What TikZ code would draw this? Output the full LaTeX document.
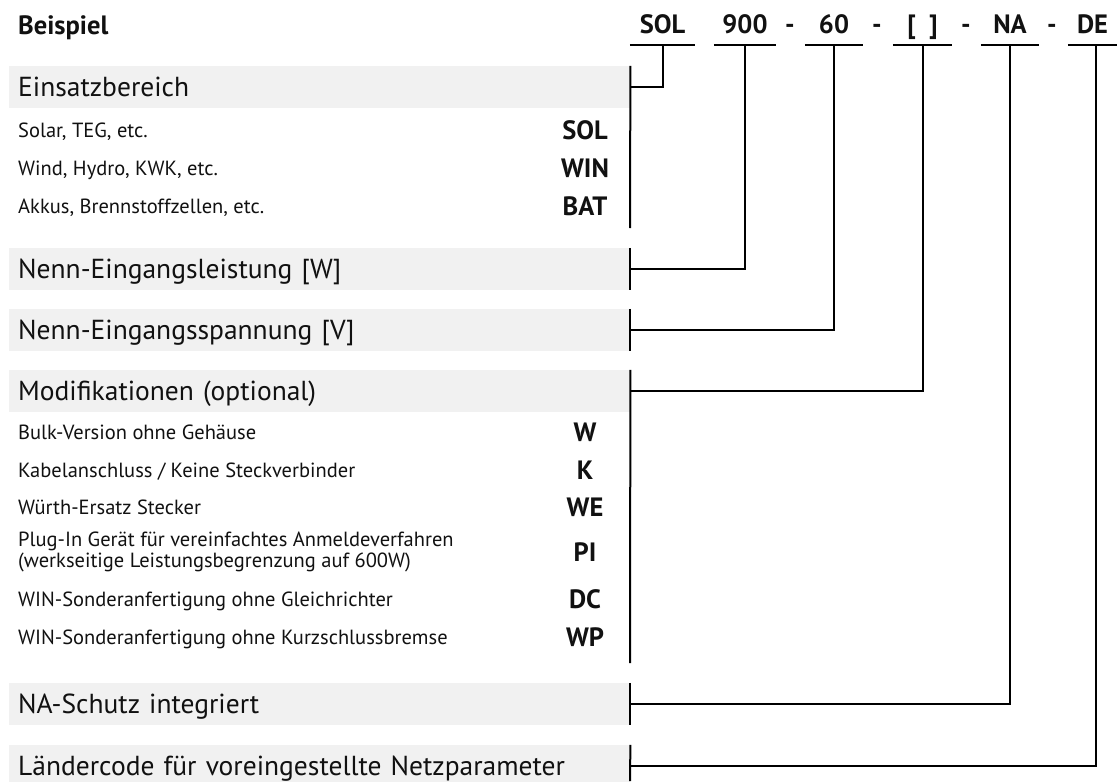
\documentclass[tikz,border=0pt]{standalone}
\usepackage{fontspec}
\setmainfont{PT Sans}
\definecolor{bargray}{HTML}{F1F1F1}
\definecolor{ink}{HTML}{111111}
\begin{document}
\begin{tikzpicture}[x=1pt,y=-1pt,
  every node/.style={text=ink, inner sep=0pt},
  conn/.style={draw=black, line width=2pt},
  bar/.style={fill=bargray, anchor=west, minimum width=621pt, minimum height=42pt,
    text width=603pt, inner xsep=9pt, align=left, text height=19pt, text depth=0pt,
    font=\fontsize{27.5}{32}\selectfont},
  item/.style={anchor=west, text height=14.3pt, text depth=0pt,
    font=\fontsize{20.5}{24}\selectfont},
  item2/.style={anchor=west, align=left, font=\fontsize{20.5}{21}\selectfont},
  code/.style={text height=18.5pt, text depth=0pt, font=\fontsize{26.5}{31}\bfseries\selectfont},
  hcode/.style={code, minimum width=#1, inner ysep=11.5pt},
]
\useasboundingbox (0,0) rectangle (1118,781);

% header line
\node[code, anchor=west] (beispiel) at (18,25) {Beispiel};
\node[hcode=65pt] (hsol) at (662.5,24.5) {SOL};
\node[hcode=62pt] (h900) at (745,24.5) {900};
\node[code] (d1) at (790,24.5) {-};
\node[hcode=58pt] (h60) at (834,24.5) {60};
\node[code] (d2) at (877,24.5) {-};
\node[hcode=59pt] (hmod) at (922.5,24.5) {[\hspace{0.5em}]};
\node[code] (d3) at (966,24.5) {-};
\node[hcode=58pt] (hna) at (1010,24.5) {NA};
\node[code] (d4) at (1052,24.5) {-};
\node[hcode=49pt] (hde) at (1092.5,24.5) {DE};

% section bars
\node[bar] (b1) at (9,87) {Einsatzbereich};
\node[bar] (b2) at (9,269) {Nenn-Eingangsleistung [W]};
\node[bar] (b3) at (9,330) {Nenn-Eingangsspannung [V]};
\node[bar] (b4) at (9,391) {Modifikationen (optional)};
\node[bar] (b5) at (9,704) {NA-Schutz integriert};
\node[bar] (b6) at (9,766) {Ländercode für voreingestellte Netzparameter};

% group 1 items
\node[item] (i11) at (18,130) {Solar, TEG, etc.};
\node[code] (c11) at (585,130) {SOL};
\node[item] (i12) at (18,168) {Wind, Hydro, KWK, etc.};
\node[code] (c12) at (585,168) {WIN};
\node[item] (i13) at (18,206) {Akkus, Brennstoffzellen, etc.};
\node[code] (c13) at (585,206) {BAT};

% group 4 items
\node[item] (i41) at (18,432) {Bulk-Version ohne Gehäuse};
\node[code] (c41) at (585,432) {W};
\node[item] (i42) at (18,470) {Kabelanschluss / Keine Steckverbinder};
\node[code] (c42) at (585,470) {K};
\node[item] (i43) at (18,507) {Würth-Ersatz Stecker};
\node[code] (c43) at (585,507) {WE};
\node[item2] (i44) at (18,552) {Plug-In Gerät für vereinfachtes Anmeldeverfahren\\(werkseitige Leistungsbegrenzung auf 600W)};
\node[code] (c44) at (585,552) {PI};
\node[item] (i45) at (18,599) {WIN-Sonderanfertigung ohne Gleichrichter};
\node[code] (c45) at (585,599) {DC};
\node[item] (i46) at (18,637) {WIN-Sonderanfertigung ohne Kurzschlussbremse};
\node[code] (c46) at (585,637) {WP};

% group end points
\coordinate (g1end) at (630,228);
\coordinate (g4end) at (630,663);
\coordinate (g6end) at (630,781);

% group lines
\draw[conn] (b1.north east) -- (g1end);
\draw[conn] (b2.north east) -- (b2.south east);
\draw[conn] (b3.north east) -- (b3.south east);
\draw[conn] (b4.north east) -- (g4end);
\draw[conn] (b5.north east) -- (b5.south east);
\draw[conn] (b6.north east) -- (g6end);

% underlines
\foreach \n in {hsol,h900,h60,hmod,hna,hde}
  \draw[conn] (\n.south west) -- (\n.south east);

% connectors
\draw[conn] (hsol.south) |- (b1.east);
\draw[conn] (h900.south) |- (b2.east);
\draw[conn] (h60.south) |- (b3.east);
\draw[conn] (hmod.south) |- (b4.east);
\draw[conn] (hna.south) |- (b5.east);
\draw[conn] ([xshift=3.5pt]hde.south) |- (b6.east);
\end{tikzpicture}
\end{document}
